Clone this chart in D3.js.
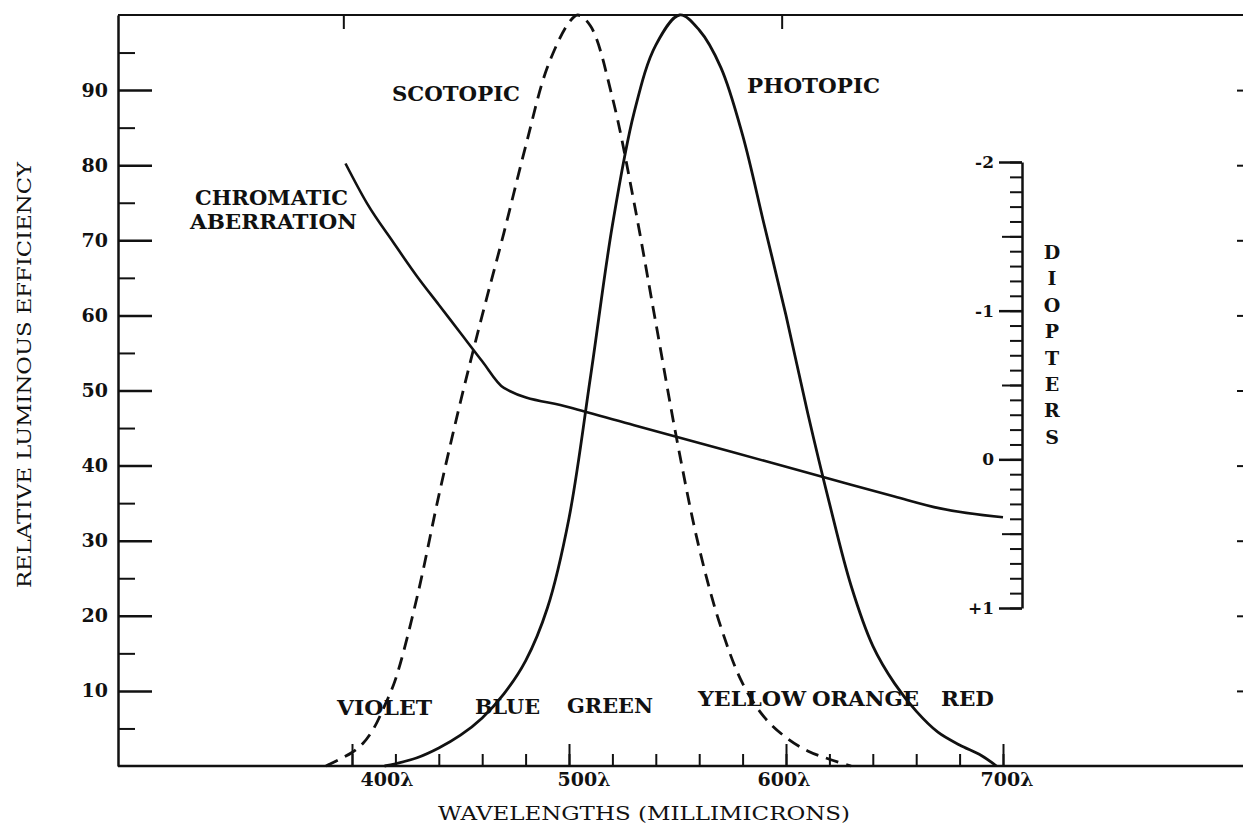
<!DOCTYPE html>
<html>
<head>
<meta charset="utf-8">
<script src="https://cdn.jsdelivr.net/npm/d3@7"></script>
<style>
body { margin: 0; background: #fff; }
svg { display: block; }
text { font-family: "DejaVu Serif", serif; fill: #111; }
</style>
</head>
<body>
<script>
// curvas (longitud de onda en mu, eficiencia en %)
var scotopicWl  = [388, 395, 400, 405, 410, 415, 420, 430, 440, 450, 460, 470, 480, 490, 500, 504, 510, 520, 530, 540, 550, 560, 570, 580, 590, 600, 610, 620, 630];
var scotopicVal = [0, 1.0, 1.8, 3.0, 5.0, 8.0, 11.5, 22.5, 36, 48.5, 60, 71, 82.5, 93, 99, 100, 98.5, 89, 75, 59, 43, 29, 18.5, 11, 6.5, 3.8, 2.0, 0.9, 0];

var photopicWl  = [415, 420, 430, 440, 450, 460, 470, 480, 490, 500, 510, 520, 530, 540, 551, 560, 570, 580, 590, 600, 610, 620, 630, 640, 650, 660, 670, 680, 690, 697];
var photopicVal = [0, 0.3, 1.1, 2.4, 4.1, 6.4, 9.6, 14, 21, 33, 52, 72, 87, 96, 100, 98, 93, 84, 72, 60, 47, 35, 24, 16, 11, 7.3, 4.5, 2.8, 1.4, 0];

// aberracion cromatica en dioptrias (eje derecho)
var chromaWl  = [397, 407, 419, 430, 440, 450, 460, 470, 500, 530, 560, 590, 620, 650, 671, 700];
var chromaDpt = [-1.99, -1.72, -1.46, -1.23, -1.04, -0.85, -0.66, -0.48, -0.35, -0.23, -0.11, 0.01, 0.13, 0.25, 0.33, 0.39];

var leftTicks = [10, 20, 30, 40, 50, 60, 70, 80, 90];
var leftMinor = [5, 15, 25, 35, 45, 55, 65, 75, 85, 95];
var waveMajor = [400, 500, 600, 700];
var waveLabels = ["400\u03bb", "500\u03bb", "600\u03bb", "700\u03bb"];
var waveLabelShift = [35, 15, -2, 4];
var topTicks = [396, 598];
var dioptTicks = [-2, -1, 0, 1];
var dioptLabels = ["-2", "-1", "0", "+1"];

var colorNames = ["VIOLET", "BLUE", "GREEN", "YELLOW", "ORANGE", "RED"];

var W = 1243, H = 827;
var svg = d3.select("body").append("svg").attr("width", W).attr("height", H);

var x = d3.scaleLinear().domain([400, 700]).range([352, 1003]);
var y = d3.scaleLinear().domain([0, 100]).range([766, 15]);
var yd = d3.scaleLinear().domain([-2, 1]).range([162, 608]);

var ink = "#111";

// marco superior e inferior
svg.append("line").attr("x1", 118).attr("x2", W).attr("y1", y(100)).attr("y2", y(100))
  .attr("stroke", ink).attr("stroke-width", 2);
svg.append("line").attr("x1", 118).attr("x2", W).attr("y1", y(0)).attr("y2", y(0))
  .attr("stroke", ink).attr("stroke-width", 2.5);

function styleAxis(g, w) {
  g.selectAll("line").attr("stroke", ink).attr("stroke-width", w);
  g.selectAll("path").attr("stroke", ink).attr("stroke-width", 2.5);
}

// eje izquierdo
var gl = svg.append("g").attr("transform", "translate(118,0)")
  .call(d3.axisLeft(y).tickValues(leftTicks).tickSizeInner(-34).tickSizeOuter(0).tickPadding(10));
styleAxis(gl, 2.5);
gl.selectAll("text").attr("font-size", 19).attr("font-weight", "bold").attr("fill", ink);
svg.append("g").attr("transform", "translate(118,0)")
  .call(d3.axisLeft(y).tickValues(leftMinor).tickSizeInner(-17).tickFormat(""))
  .call(function(g) { g.select(".domain").remove(); styleAxis(g, 2); });

// marcas pequenas del borde derecho
svg.append("g").attr("transform", "translate(" + W + ",0)")
  .call(d3.axisLeft(y).tickValues(leftTicks).tickSizeInner(6).tickFormat(""))
  .call(function(g) { g.select(".domain").remove(); styleAxis(g, 2); });

// eje de longitudes de onda
svg.append("g").attr("transform", "translate(0," + y(0) + ")")
  .call(d3.axisBottom(x).tickValues(d3.range(400, 701, 20)).tickSizeInner(-12).tickFormat(""))
  .call(function(g) { g.select(".domain").remove(); styleAxis(g, 2); });
svg.append("g").attr("transform", "translate(0," + y(0) + ")")
  .call(d3.axisBottom(x).tickValues(waveMajor).tickSizeInner(-22).tickFormat(""))
  .call(function(g) { g.select(".domain").remove(); styleAxis(g, 2); });
svg.append("g").attr("transform", "translate(0," + y(100) + ")")
  .call(d3.axisBottom(x).tickValues(topTicks).tickSizeInner(14).tickFormat(""))
  .call(function(g) { g.select(".domain").remove(); styleAxis(g, 2); });

svg.selectAll(".wlab").data(waveMajor).enter().append("text")
  .attr("class", "wlab")
  .attr("x", function(d, i) { return x(d) + waveLabelShift[i]; })
  .attr("y", 786)
  .attr("text-anchor", "middle")
  .attr("font-size", 19).attr("font-weight", "bold")
  .text(function(d, i) { return waveLabels[i]; });

svg.append("text").attr("x", 644).attr("y", 820).attr("text-anchor", "middle")
  .attr("font-size", 19).attr("textLength", 412).attr("lengthAdjust", "spacingAndGlyphs")
  .text("WAVELENGTHS (MILLIMICRONS)");

svg.append("text").attr("transform", "translate(31,375) rotate(-90)").attr("text-anchor", "middle")
  .attr("font-size", 19).attr("textLength", 426).attr("lengthAdjust", "spacingAndGlyphs")
  .text("RELATIVE LUMINOUS EFFICIENCY");

// eje de dioptrias
var gd = svg.append("g").attr("transform", "translate(1022,0)")
  .call(d3.axisLeft(yd).tickValues(d3.range(-2, 1.001, 0.1)).tickSizeInner(12).tickSizeOuter(0).tickFormat(""));
styleAxis(gd, 2);
svg.append("g").attr("transform", "translate(1022,0)")
  .call(d3.axisLeft(yd).tickValues([-1.5, -0.5, 0.5]).tickSizeInner(20).tickFormat(""))
  .call(function(g) { g.select(".domain").remove(); styleAxis(g, 2); });
var gd2 = svg.append("g").attr("transform", "translate(1022,0)")
  .call(d3.axisLeft(yd).tickValues(dioptTicks).tickSizeInner(23).tickPadding(5)
    .tickFormat(function(d, i) { return dioptLabels[i]; }));
gd2.select(".domain").remove();
styleAxis(gd2, 2.5);
gd2.selectAll("text").attr("font-size", 17).attr("font-weight", "bold").attr("fill", ink);

svg.selectAll(".dlet").data("DIOPTERS".split("")).enter().append("text")
  .attr("class", "dlet")
  .attr("x", 1052).attr("y", function(d, i) { return 259 + i * 26.4; })
  .attr("text-anchor", "middle").attr("font-size", 19).attr("font-weight", "bold")
  .text(function(d) { return d; });

// curvas
var line = d3.line().x(function(d) { return x(d[0]); }).y(function(d) { return y(d[1]); })
  .curve(d3.curveCatmullRom.alpha(0.5));

svg.append("path").datum(d3.zip(scotopicWl, scotopicVal))
  .attr("d", line).attr("fill", "none").attr("stroke", ink)
  .attr("stroke-width", 2.8).attr("stroke-dasharray", "13,8");

svg.append("path").datum(d3.zip(photopicWl, photopicVal))
  .attr("d", line).attr("fill", "none").attr("stroke", ink).attr("stroke-width", 2.8);

var dline = d3.line().x(function(d) { return x(d[0]); }).y(function(d) { return yd(d[1]); })
  .curve(d3.curveMonotoneX);
svg.append("path").datum(d3.zip(chromaWl, chromaDpt))
  .attr("d", dline).attr("fill", "none").attr("stroke", ink).attr("stroke-width", 2.6);

// rotulos
function label(t, x0, base, len) {
  svg.append("text").attr("x", x0).attr("y", base).attr("font-size", 20).attr("font-weight", "bold")
    .attr("textLength", len).attr("lengthAdjust", "spacingAndGlyphs").text(t);
}
label("SCOTOPIC", 392, 101, 128);
label("PHOTOPIC", 747, 93, 133);
label("CHROMATIC", 195, 205, 153);
label("ABERRATION", 190, 229, 167);

var colorX = [337, 475, 567, 698, 812, 941];
var colorW = [95, 65, 86, 108, 107, 53];
var colorBase = [715, 714, 713, 706, 706, 706];
colorNames.forEach(function(n, i) { label(n, colorX[i], colorBase[i], colorW[i]); });
</script>
</body>
</html>
